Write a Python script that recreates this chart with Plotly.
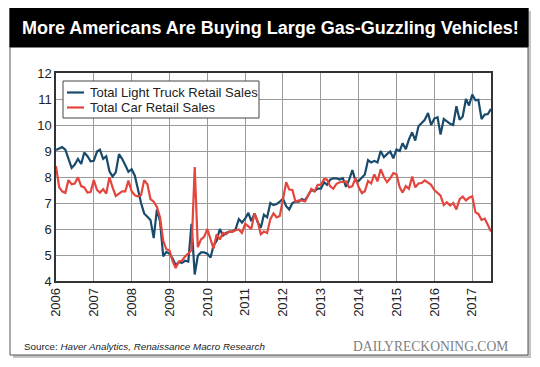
import plotly.graph_objects as go
import pandas as pd

# ---------------- data (monthly, millions SAAR) ----------------
start_month = "2006-01-01"
truck_sales = [
    9.04, 9.10, 9.15, 9.05, 8.70, 8.35, 8.48, 8.70, 8.50, 8.94, 8.80, 8.60,   # 2006
    8.62, 8.98, 9.05, 8.70, 8.80, 8.22, 8.02, 8.18, 8.88, 8.70, 8.45, 8.20,   # 2007
    8.30, 8.05, 7.55, 7.00, 6.60, 6.45, 6.35, 5.65, 6.75, 6.30, 4.95, 5.12,   # 2008
    5.05, 4.85, 4.62, 4.72, 4.70, 4.78, 4.75, 6.20, 4.25, 4.97, 5.10, 5.10,   # 2009
    5.05, 4.90, 5.36, 5.55, 6.00, 5.75, 5.85, 5.90, 5.90, 6.00, 6.38, 6.25,   # 2010
    6.40, 6.62, 6.30, 6.60, 6.27, 6.05, 6.55, 6.45, 7.00, 6.92, 6.96, 7.05,   # 2011
    7.17, 6.88, 6.75, 7.00, 7.05, 7.05, 7.15, 7.10, 7.30, 7.50, 7.45, 7.55,   # 2012
    7.55, 7.80, 7.70, 7.90, 7.95, 7.95, 7.90, 7.95, 7.62, 7.90, 8.27, 7.85,   # 2013
    7.85, 8.00, 8.10, 8.65, 8.56, 8.62, 8.56, 9.00, 8.76, 8.88, 8.98, 8.72,   # 2014
    9.06, 9.00, 9.30, 9.07, 9.45, 9.72, 9.40, 9.95, 10.07, 10.20, 10.46, 10.00,  # 2015
    10.25, 10.30, 9.63, 10.23, 10.14, 10.05, 10.00, 10.72, 10.20, 10.33, 11.00, 10.75,  # 2016
    11.17, 10.95, 10.97, 10.23, 10.40, 10.42, 10.62,                          # 2017
]
car_sales = [
    8.42, 7.60, 7.45, 7.39, 7.88, 7.72, 7.75, 7.99, 7.65, 7.60, 7.40, 7.42,   # 2006
    7.88, 7.50, 7.40, 7.53, 7.36, 7.99, 7.60, 7.27, 7.36, 7.45, 7.45, 7.86,   # 2007
    7.45, 7.30, 7.26, 7.30, 7.88, 7.72, 7.15, 7.05, 6.85, 6.45, 5.55, 5.22,   # 2008
    5.17, 4.75, 4.50, 4.75, 4.78, 4.95, 5.05, 5.20, 8.38, 5.30, 5.60, 5.70,   # 2009
    6.00, 5.55, 5.25, 5.80, 5.60, 5.85, 5.80, 5.90, 5.90, 5.95, 5.98, 5.85,   # 2010
    6.20, 6.10, 6.00, 6.60, 6.30, 5.80, 5.90, 5.85, 6.38, 6.60, 6.45, 6.50,   # 2011
    7.10, 7.80, 7.52, 7.50, 7.05, 7.10, 7.10, 7.06, 7.30, 7.54, 7.45, 7.70,   # 2012
    7.70, 7.92, 7.90, 7.64, 7.55, 7.74, 7.80, 7.82, 7.83, 7.60, 7.65, 7.96,   # 2013
    7.60, 7.38, 7.45, 7.85, 7.75, 8.10, 7.83, 8.30, 8.00, 7.80, 7.95, 8.15,   # 2014
    8.10, 7.60, 7.40, 7.65, 7.55, 8.02, 7.60, 7.75, 7.77, 7.87, 7.80, 7.70,   # 2015
    7.50, 7.40, 7.28, 6.92, 7.03, 6.90, 7.00, 6.75, 7.15, 7.25, 7.10, 7.20,   # 2016
    7.26, 6.64, 6.58, 6.35, 6.40, 6.15, 5.90,                                 # 2017
]
series_names = ["Total Light Truck Retail Sales", "Total Car Retail Sales"]
series_colors = ["#184a6c", "#e4453d"]
year_ticks = list(range(2006, 2018))
y_ticks = list(range(4, 13))

title_text = "More Americans Are Buying Large Gas-Guzzling Vehicles!"
source_text = "Source: <i>Haver Analytics, Renaissance Macro Research</i>"
brand_text = "DAILYRECKONING.COM"

# ---------------- figure ----------------
dates = pd.date_range(start_month, periods=len(truck_sales), freq="MS")

OFF = 8                      # browser body margin offsets the figure
W, H = 540 - OFF, 367 - OFF
L, R, T, B = 56, 491, 73, 281  # plot area in page pixels


def px(x):
    return (x - L) / (R - L)


def py(y):
    return (B - y) / (B - T)


fig = go.Figure()
for vals, name, color in zip([truck_sales, car_sales], series_names, series_colors):
    fig.add_trace(go.Scatter(x=dates, y=vals, mode="lines", name=name,
                             line=dict(color=color, width=2.2), showlegend=False))

sans = "Liberation Sans, Arial, Helvetica, sans-serif"
grid = "#9a9a9a"
fig.update_layout(
    width=W, height=H,
    margin=dict(l=L - OFF, r=540 - R, t=T - OFF, b=367 - B, pad=0),
    paper_bgcolor="white", plot_bgcolor="white",
    font=dict(family=sans, size=13, color="#222"),
    xaxis=dict(type="date", range=[dates[0], dates[-1]],
               tickvals=[pd.Timestamp(f"{y}-01-01") for y in year_ticks],
               ticktext=[str(y) for y in year_ticks], tickangle=-90,
               showgrid=True, gridcolor=grid, gridwidth=1,
               showline=True, mirror=True, linecolor="#333", linewidth=1.5,
               ticks="", zeroline=False),
    yaxis=dict(range=[4, 12], tickvals=y_ticks,
               showgrid=True, gridcolor=grid, gridwidth=1,
               showline=True, mirror=True, linecolor="#333", linewidth=1.5,
               ticks="", zeroline=False),
)

shapes = []
# drop shadow + frame + title bar
shapes.append(dict(type="rect", xref="paper", yref="paper", layer="below",
                   x0=px(13), x1=px(531), y0=py(358), y1=py(11),
                   fillcolor="#c4c4c4", line=dict(width=0)))
shapes.append(dict(type="rect", xref="paper", yref="paper", layer="below",
                   x0=px(10), x1=px(528), y0=py(355), y1=py(8),
                   fillcolor="white", line=dict(color="#555", width=1)))
shapes.append(dict(type="rect", xref="paper", yref="paper", layer="below",
                   x0=px(10), x1=px(528), y0=py(47), y1=py(8),
                   fillcolor="black", line=dict(color="black", width=1)))
# legend box
shapes.append(dict(type="rect", xref="paper", yref="paper", layer="above",
                   x0=px(63), x1=px(259), y0=py(118), y1=py(81),
                   fillcolor="white", line=dict(color="#444", width=1)))
legend_rows = [92.5, 107.5]
for yy, color in zip(legend_rows, series_colors):
    shapes.append(dict(type="line", xref="paper", yref="paper", layer="above",
                       x0=px(67), x1=px(84), y0=py(yy), y1=py(yy),
                       line=dict(color=color, width=2.2)))

annotations = [
    dict(text=title_text, xref="paper", yref="paper", x=px(270), y=py(27.5),
         showarrow=False, xanchor="center", yanchor="middle",
         font=dict(family=sans, size=18, color="white", weight="bold")),
    dict(text=source_text, xref="paper", yref="paper", x=px(22), y=py(346),
         showarrow=False, xanchor="left", yanchor="middle",
         font=dict(family=sans, size=9.8, color="#222")),
    dict(text=brand_text, xref="paper", yref="paper", x=px(510), y=py(346),
         showarrow=False, xanchor="right", yanchor="middle",
         font=dict(family="Liberation Serif, Times New Roman, serif", size=13.6, color="#808080")),
]
for yy, name in zip(legend_rows, series_names):
    annotations.append(dict(text=name, xref="paper", yref="paper", x=px(88), y=py(yy),
                            showarrow=False, xanchor="left", yanchor="middle",
                            font=dict(family=sans, size=13, color="#222")))

fig.update_layout(shapes=shapes, annotations=annotations)
fig.write_html("out.html")
